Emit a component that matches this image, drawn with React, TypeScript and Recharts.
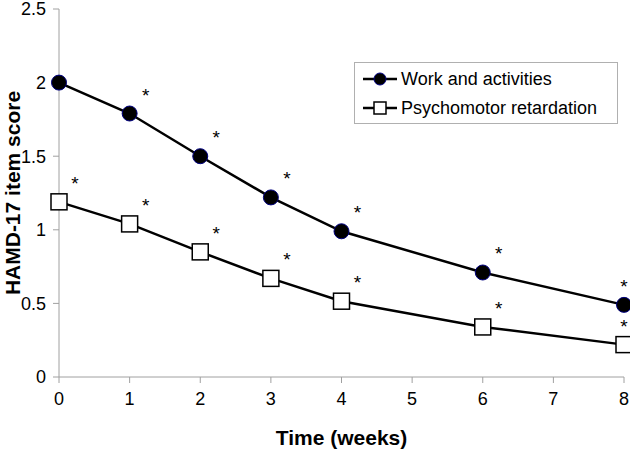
import React from 'react';
import { LineChart, Line, XAxis, YAxis, Legend, LabelList } from 'recharts';

const weeks = [0, 1, 2, 3, 4, 6, 8];
const workActivities = [2.0, 1.79, 1.5, 1.22, 0.99, 0.71, 0.49];
const psychomotor = [1.19, 1.04, 0.85, 0.67, 0.515, 0.34, 0.22];
const workSig = ['', '*', '*', '*', '*', '*', '*'];
const psychoSig = ['*', '*', '*', '*', '*', '*', '*'];
const xTicks = [0, 1, 2, 3, 4, 5, 6, 7, 8];
const yTicks = [0, 0.5, 1, 1.5, 2, 2.5];

const data = weeks.map((w, i) => ({
  week: w,
  work: workActivities[i],
  psycho: psychomotor[i],
  workSig: workSig[i],
  psychoSig: psychoSig[i],
}));

const FONT = 'Liberation Sans, Arial, sans-serif';

const Star = (props: any) => {
  const { x, y, value, index } = props;
  if (!value) return null;
  const last = index === weeks.length - 1;
  return (
    <text x={x + (last ? 0 : 16)} y={y - 12} textAnchor="middle" fontSize={19} fontFamily={FONT} fill="#000">
      {value}
    </text>
  );
};

const SquareDot = (props: any) => {
  const { cx, cy } = props;
  if (cx == null || cy == null) return null;
  return <rect x={cx - 8} y={cy - 8} width={16} height={16} fill="#fff" stroke="#000" strokeWidth={1.5} />;
};

const CustomLegend = () => (
  <div
    style={{
      width: 262,
      height: 60,
      border: '1px solid #b0b0b0',
      background: '#fff',
      fontFamily: FONT,
      fontSize: 18,
      color: '#000',
      boxSizing: 'content-box',
      textAlign: 'left',
    }}
  >
    <div style={{ display: 'flex', alignItems: 'center', height: 30, marginTop: 1 }}>
      <svg width={46} height={20}>
        <line x1={8} y1={10} x2={42} y2={10} stroke="#000" strokeWidth={2.5} />
        <circle cx={25} cy={10} r={6} fill="#000" stroke="#000080" strokeWidth={1} />
      </svg>
      <span>Work and activities</span>
    </div>
    <div style={{ display: 'flex', alignItems: 'center', height: 28 }}>
      <svg width={46} height={20}>
        <line x1={8} y1={10} x2={42} y2={10} stroke="#000" strokeWidth={2.5} />
        <rect x={19} y={4} width={12} height={12} fill="#fff" stroke="#000" strokeWidth={1.5} />
      </svg>
      <span>Psychomotor retardation</span>
    </div>
  </div>
);

export default function App() {
  return (
    <div style={{ position: 'absolute', left: 0, top: 0, background: '#fff' }}>
      <LineChart width={630} height={452} data={data} margin={{ top: 9, right: 6, bottom: 0, left: 0 }}>
        <XAxis
          dataKey="week"
          type="number"
          domain={[0, 8]}
          ticks={xTicks}
          interval={0}
          stroke="#a0a0a0"
          tickSize={6}
          tick={{ fill: '#000', fontSize: 18, fontFamily: FONT, dy: 7 }}
          height={75}
          label={{ value: 'Time (weeks)', position: 'insideBottom', offset: 7, fill: '#000', fontSize: 21, fontWeight: 'bold', fontFamily: FONT }}
        />
        <YAxis
          type="number"
          domain={[0, 2.5]}
          ticks={yTicks}
          interval={0}
          width={59}
          stroke="#a0a0a0"
          tickSize={6}
          tickMargin={7}
          tick={{ fill: '#000', fontSize: 18, fontFamily: FONT }}
          label={{ value: 'HAMD-17 item score', angle: -90, position: 'center', dx: -17, fill: '#000', fontSize: 21, fontWeight: 'bold', fontFamily: FONT }}
        />
        <Legend
          layout="horizontal"
          verticalAlign="middle"
          align="center"
          content={<CustomLegend />}
          wrapperStyle={{ left: 354, top: 62, width: 264 }}
        />
        <Line
          dataKey="work"
          stroke="#000"
          strokeWidth={2.5}
          dot={{ r: 7.5, fill: '#000', stroke: '#000080', strokeWidth: 1 }}
          isAnimationActive={false}
        >
          <LabelList dataKey="workSig" content={<Star />} />
        </Line>
        <Line
          dataKey="psycho"
          stroke="#000"
          strokeWidth={2.5}
          dot={<SquareDot />}
          isAnimationActive={false}
        >
          <LabelList dataKey="psychoSig" content={<Star />} />
        </Line>
      </LineChart>
    </div>
  );
}
